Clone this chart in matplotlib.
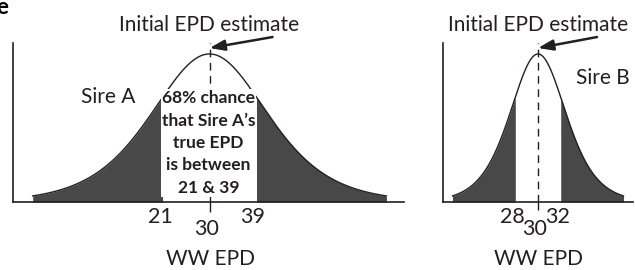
import numpy as np
import matplotlib
matplotlib.use('Agg')
import matplotlib.pyplot as plt

plt.rcParams['font.family'] = ['Lato', 'DejaVu Sans']

# EPD estimates and accuracy ranges for both sires
sires = ['Sire A', 'Sire B']
epd_estimate = [30, 30]
range_low = [21, 28]
range_high = [39, 32]
xlims = [(-8.0, 67.6), (21.56, 38.44)]

ink = '#231f20'
shade = '#484848'


def bell(x, mean, half):
    # logistic-shaped bell, peak height 1
    s = 0.833 * half
    u = (x - mean) / s
    return 1.0 / np.cosh(u / 2) ** 2


fig = plt.figure(figsize=(6.35, 2.7), dpi=100)
axes = [fig.add_axes([13 / 635, 68 / 270, 391 / 635, 159 / 270]),
        fig.add_axes([443 / 635, 68 / 270, 190 / 635, 159 / 270])]

for i, ax in enumerate(axes):
    mean = epd_estimate[i]
    lo, hi = range_low[i], range_high[i]
    half = (hi - lo) / 2
    x = np.linspace(mean - 3.8 * half, mean + 3.8 * half, 600)
    y = bell(x, mean, half)

    ax.fill_between(x, 0, y, where=x <= lo, color=shade, lw=0, interpolate=True)
    ax.fill_between(x, 0, y, where=x >= hi, color=shade, lw=0, interpolate=True)
    ax.plot(x, y, color=ink, lw=1.0)
    ax.plot([mean, mean], [0, 1.074], color=ink, lw=1.0, dashes=(5.5, 4), clip_on=False)

    ax.set_xlim(*xlims[i])
    ax.set_ylim(0, 1.074)
    for sp in ['top', 'right']:
        ax.spines[sp].set_visible(False)
    for sp in ['left', 'bottom']:
        ax.spines[sp].set_linewidth(1.2)
        ax.spines[sp].set_color(ink)
    ax.set_yticks([])
    ax.set_xticks([mean])
    ax.set_xticklabels([''])
    ax.tick_params(axis='x', length=7 if i == 0 else 6, width=1.0, color=ink)

    # tick labels drawn as text
    for val, dy in [(lo, -15), (hi, -15), (mean, -27)]:
        ax.annotate(str(val), xy=(val, 0), xytext=(-3, dy), textcoords='offset pixels',
                    ha='center', va='center', fontsize=15.5, color=ink, annotation_clip=False)
    ax.annotate('WW EPD', xy=(mean, 0), xytext=(1, -57), textcoords='offset pixels',
                ha='center', va='center', fontsize=15, color=ink, annotation_clip=False)

    # estimate label and arrow
    ax.annotate('Initial EPD estimate', xy=(mean, 1.196), ha='center', va='center',
                fontsize=15, color=ink, annotation_clip=False)
    tail_px = 63 if i == 0 else 59
    ax.annotate('', xy=(mean, 1.04), xycoords='data',
                xytext=(tail_px, 11), textcoords='offset pixels',
                arrowprops=dict(arrowstyle='-|>,head_length=0.9,head_width=0.32',
                                color=ink, lw=1.8, shrinkA=0, shrinkB=0),
                annotation_clip=False)

axes[0].annotate('Sire A', xy=(30, 0), xytext=(-101, 105), textcoords='offset pixels',
                 ha='center', va='center', fontsize=15, color=ink)
axes[1].annotate('Sire B', xy=(30, 0), xytext=(65, 124), textcoords='offset pixels',
                 ha='center', va='center', fontsize=15, color=ink, annotation_clip=False)

axes[0].annotate("68% chance\nthat Sire A\u2019s\ntrue EPD\nis between\n21 & 39",
                 xy=(30, 0), xytext=(-1, 59), textcoords='offset pixels',
                 ha='center', va='center', fontsize=12.5, fontweight='bold', color=ink,
                 linespacing=1.5, zorder=5,
                 bbox=dict(boxstyle='square,pad=0.05', fc='white', ec='none'))

fig.text(0.013, 1.01, 'e', ha='right', va='top', fontsize=16, fontweight='bold', color='black')

fig.savefig('out.png', dpi=100)
